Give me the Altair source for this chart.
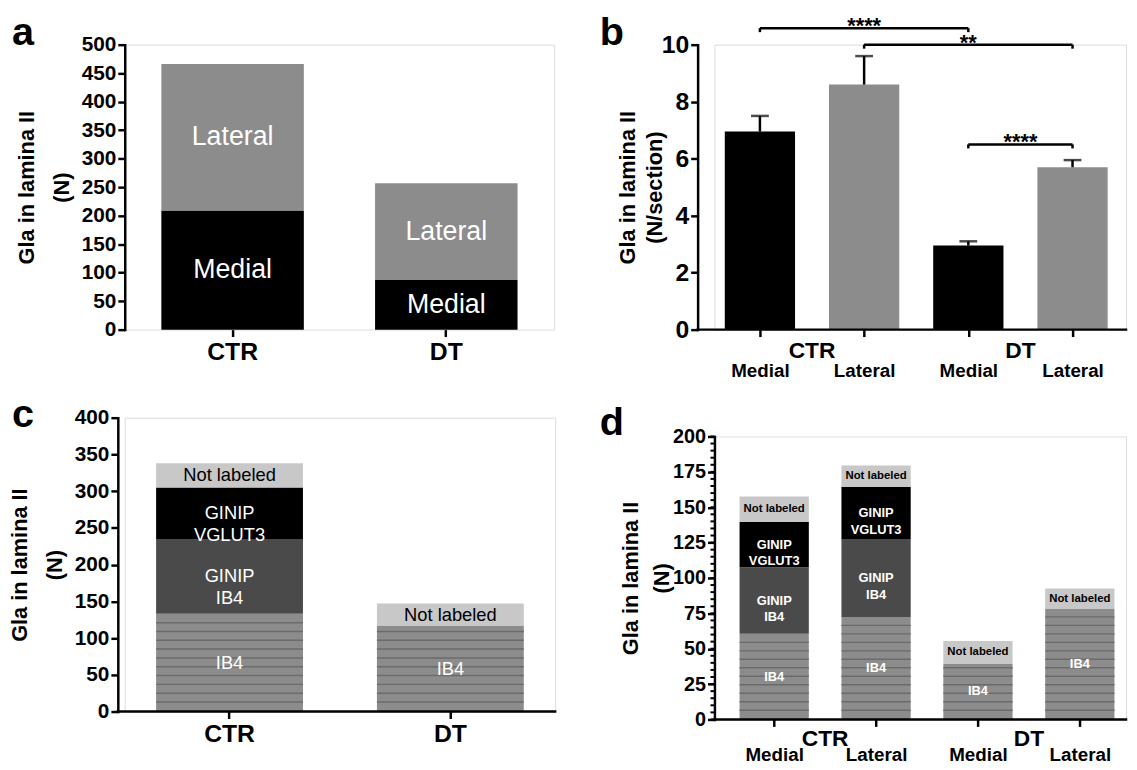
import json
import altair as alt
import pandas as pd

# ---------------- data ----------------
a_groups = ["CTR", "DT"]
a_parts = ["Medial", "Lateral"]
a_medial = [209, 87]
a_lateral = [257, 170]

b_keys = ["CTR Medial", "CTR Lateral", "DT Medial", "DT Lateral"]
b_groups = ["CTR", "CTR", "DT", "DT"]
b_sides = ["Medial", "Lateral", "Medial", "Lateral"]
b_mean = [6.95, 8.6, 2.95, 5.7]
b_err_top = [7.5, 9.6, 3.1, 5.95]
b_cmp_from = ["CTR Medial", "CTR Lateral", "DT Medial"]
b_cmp_to = ["DT Medial", "DT Lateral", "DT Lateral"]
b_cmp_y = [10.58, 10.0, 6.5]
b_cmp_sig = ["****", "**", "****"]

segments = ["IB4", "GINIP IB4", "GINIP VGLUT3", "Not labeled"]
seg_text = ["IB4", "GINIP\nIB4", "GINIP\nVGLUT3", "Not labeled"]

c_groups = ["CTR", "DT"]
c_ib4 = [133, 117]
c_ginip_ib4 = [102, 0]
c_ginip_vglut3 = [70, 0]
c_not_labeled = [33, 30]

d_keys = ["CTR Medial", "CTR Lateral", "DT Medial", "DT Lateral"]
d_groups = ["CTR", "CTR", "DT", "DT"]
d_sides = ["Medial", "Lateral", "Medial", "Lateral"]
d_ib4 = [60.5, 72.5, 39.5, 78]
d_ginip_ib4 = [47, 55, 0, 0]
d_ginip_vglut3 = [32, 37, 0, 0]
d_not_labeled = [18, 15, 16, 14.5]

# ---------------- style / layout ----------------
FONT = "Liberation Sans"
BLACK = "#000000"
GRAY = "#8c8c8c"
SEG_FILL = ["#8c8c8c", "#4a4a4a", "#000000", "#c8c8c8"]
STRIPE = "#6b6b6b"

A_W, A_H = 434, 288
C_W, C_H = 435, 297
C_YOFF = 7
B_W, B_H = 416, 288
B_YOFF = 17
D_W, D_H = 416, 286
B_XDOM = [-0.389, 3.466]
D_XDOM = [-0.538, 3.405]
B_BAR, D_BAR = 71, 70


def y_axis(values, title, label_size, offset=0, line_h=35, tpad=8):
    return alt.Axis(values=values, title=title, format="d", grid=False, offset=offset,
                    domainColor=BLACK, domainWidth=2.5, domainCap="square",
                    tickColor=BLACK, tickWidth=2.5, tickSize=7,
                    labelFont=FONT, labelFontSize=label_size, labelFontWeight="bold",
                    labelColor=BLACK, labelPadding=2,
                    titleFont=FONT, titleFontSize=22, titleFontWeight="bold",
                    titleColor=BLACK, titleLineHeight=line_h, titlePadding=tpad)


def x_axis_band(size):
    return alt.Axis(title=None, labelAngle=0, domain=False, grid=False,
                    tickColor=BLACK, tickWidth=2.5, tickSize=7,
                    labelFont=FONT, labelFontSize=size, labelFontWeight="bold",
                    labelColor=BLACK, labelPadding=3)


def x_axis_idx(sides, size, pad):
    return alt.Axis(values=list(range(len(sides))),
                    labelExpr=json.dumps(sides) + "[datum.value]",
                    title=None, labelAngle=0, domain=False, grid=False,
                    tickColor=BLACK, tickWidth=2.5, tickSize=7,
                    labelFont=FONT, labelFontSize=size, labelFontWeight="bold",
                    labelColor=BLACK, labelPadding=pad, labelFlush=False, labelOverlap=False)


def baseline(off, w, h):
    return alt.Chart(pd.DataFrame({"z": [0]})).mark_rule(
        color=BLACK, strokeWidth=2.5, strokeCap="square"
    ).encode(x=alt.value(-off), x2=alt.value(w), y=alt.value(h))


def letter(t, dx, offset):
    return alt.TitleParams(text=t, anchor="start", frame="group", font=FONT, fontSize=40,
                           fontWeight="bold", color=BLACK, dx=dx, offset=offset)


def stacked_df(cats, cols, groups=None):
    rows = []
    for i, cat in enumerate(cats):
        for j, (seg, lab) in enumerate(zip(segments, seg_text)):
            rows.append({"cat": cat, "idx": i, "grp": (groups[i] if groups else cat),
                         "seg": seg, "lab": lab, "order": j, "value": cols[j][i]})
    return pd.DataFrame(rows)


def stack(df):
    return alt.Chart(df).transform_stack(
        stack="value", groupby=["cat"], as_=["y0", "y1"],
        sort=[alt.SortField("order", order="ascending")]
    ).transform_calculate(mid="(datum.y0 + datum.y1) / 2")


# ---------------- panel a ----------------
a_rows = []
for g, m, l in zip(a_groups, a_medial, a_lateral):
    a_rows.append({"cat": g, "part": a_parts[0], "order": 0, "value": m})
    a_rows.append({"cat": g, "part": a_parts[1], "order": 1, "value": l})
a_df = pd.DataFrame(a_rows)
a_xe = alt.X("cat:N", sort=a_groups, scale=alt.Scale(paddingInner=0.3333, paddingOuter=0.1713),
             axis=x_axis_band(25))
a_ys = alt.Scale(domain=[0, 500], nice=False)
a_ya = y_axis(list(range(0, 501, 50)), ["Gla in lamina II", "(N)"], 21)
a_base = alt.Chart(a_df).transform_stack(
    stack="value", groupby=["cat"], as_=["y0", "y1"],
    sort=[alt.SortField("order", order="ascending")]
).transform_calculate(mid="(datum.y0 + datum.y1) / 2")
a_bars = a_base.mark_bar().encode(
    x=a_xe, y=alt.Y("y0:Q", scale=a_ys, axis=a_ya), y2="y1:Q",
    color=alt.Color("part:N", scale=alt.Scale(domain=a_parts, range=[BLACK, GRAY]), legend=None))
a_text = a_base.mark_text(font=FONT, fontSize=27, color="white").encode(
    x=a_xe, y=alt.Y("mid:Q", scale=a_ys, axis=a_ya), text="part:N")
a_chart = alt.layer(a_bars, a_text).properties(width=A_W, height=A_H, title=letter("a", -114, -19))

# ---------------- panel b ----------------
idx_of = {k: i for i, k in enumerate(b_keys)}
b_df = pd.DataFrame({"key": b_keys, "grp": b_groups, "side": b_sides,
                     "idx": list(range(len(b_keys))), "mean": b_mean, "top": b_err_top,
                     "z": [0] * len(b_keys)})
cmp_df = pd.DataFrame({"x1": [idx_of[k] for k in b_cmp_from], "x2": [idx_of[k] for k in b_cmp_to],
                       "y": b_cmp_y, "sig": b_cmp_sig})
b_xs = alt.Scale(domain=B_XDOM, nice=False, zero=False)
b_ys = alt.Scale(domain=[0, 10], nice=False)
b_xa = x_axis_idx(b_sides, 19, 25)
b_ya = y_axis([0, 2, 4, 6, 8, 10], ["Gla in lamina II", "(N/section)"], 25, offset=B_YOFF,
              line_h=27, tpad=-5)


def bx(f):
    return alt.X(f, scale=b_xs, axis=b_xa)


def by(f):
    return alt.Y(f, scale=b_ys, axis=b_ya)


b_bars = alt.Chart(b_df).mark_bar(width=B_BAR).encode(
    x=bx("idx:Q"), y=by("mean:Q"),
    color=alt.Color("side:N", scale=alt.Scale(domain=["Medial", "Lateral"], range=[BLACK, GRAY]),
                    legend=None))
b_err = alt.Chart(b_df).mark_rule(color=BLACK, strokeWidth=2.5).encode(
    x=bx("idx:Q"), y=by("mean:Q"), y2="top:Q")
b_cap = alt.Chart(b_df).mark_tick(orient="horizontal", size=18, thickness=2.5, color=BLACK).encode(
    x=bx("idx:Q"), y=by("top:Q"))
b_br = alt.Chart(cmp_df).mark_rule(color=BLACK, strokeWidth=2.5).encode(
    x=bx("x1:Q"), x2="x2:Q", y=by("y:Q"))
b_brl = alt.Chart(cmp_df).transform_calculate(yl="datum.y - 0.14").mark_rule(
    color=BLACK, strokeWidth=2.5).encode(x=bx("x1:Q"), y=by("y:Q"), y2="yl:Q")
b_brr = alt.Chart(cmp_df).transform_calculate(yl="datum.y - 0.14").mark_rule(
    color=BLACK, strokeWidth=2.5).encode(x=bx("x2:Q"), y=by("y:Q"), y2="yl:Q")
b_sig = alt.Chart(cmp_df).transform_calculate(xm="(datum.x1 + datum.x2) / 2").mark_text(
    font=FONT, fontSize=22, fontWeight="bold", baseline="alphabetic", dy=5, color=BLACK
).encode(x=bx("xm:Q"), y=by("y:Q"), text="sig:N")
b_grp = alt.Chart(b_df).transform_aggregate(gx="mean(idx)", z="min(z)", groupby=["grp"]).mark_text(
    font=FONT, fontSize=23, fontWeight="bold", baseline="middle", dy=22, color=BLACK
).encode(x=bx("gx:Q"), y=by("z:Q"), text="grp:N")
b_chart = alt.layer(b_bars, b_err, b_cap, b_br, b_brl, b_brr, b_sig, b_grp,
                    baseline(B_YOFF, B_W, B_H)).properties(
    width=B_W, height=B_H, title=letter("b", -116, -38))

# ---------------- panel c ----------------
c_df = stacked_df(c_groups, [c_ib4, c_ginip_ib4, c_ginip_vglut3, c_not_labeled])
c_xe = alt.X("cat:N", sort=c_groups, scale=alt.Scale(paddingInner=0.335, paddingOuter=0.142),
             axis=x_axis_band(25))
c_ys = alt.Scale(domain=[0, 400], nice=False)
c_ya = y_axis(list(range(0, 401, 50)), ["Gla in lamina II", "(N)"], 21, offset=C_YOFF)
C_STEP, C_THICK = 12, 2
c_bars = stack(c_df).mark_bar().encode(
    x=c_xe, y=alt.Y("y0:Q", scale=c_ys, axis=c_ya), y2="y1:Q",
    color=alt.Color("seg:N", scale=alt.Scale(domain=segments, range=SEG_FILL), legend=None))
c_stripes = alt.Chart(c_df).transform_filter(alt.datum.seg == segments[0]).transform_calculate(
    s=f"sequence({C_STEP}, datum.value - {C_STEP / 2}, {C_STEP})"
).transform_flatten(["s"]).transform_calculate(s2=f"datum.s + {C_THICK}").mark_bar(
    color=STRIPE).encode(x=c_xe, y=alt.Y("s:Q", scale=c_ys, axis=c_ya), y2="s2:Q")
c_text_w = stack(c_df).transform_filter(
    (alt.datum.value > 0) & (alt.datum.seg != segments[3])).mark_text(
    font=FONT, fontSize=18.5, lineBreak="\n", lineHeight=22, color="white").encode(
    x=c_xe, y=alt.Y("mid:Q", scale=c_ys, axis=c_ya), text="lab:N")
c_text_b = stack(c_df).transform_filter(
    (alt.datum.value > 0) & (alt.datum.seg == segments[3])).mark_text(
    font=FONT, fontSize=18.5, color=BLACK).encode(
    x=c_xe, y=alt.Y("mid:Q", scale=c_ys, axis=c_ya), text="lab:N")
c_chart = alt.layer(c_bars, c_stripes, c_text_w, c_text_b, baseline(C_YOFF, C_W, C_H)).properties(
    width=C_W, height=C_H, title=letter("c", -114, -28))

# ---------------- panel d ----------------
d_df = stacked_df(d_keys, [d_ib4, d_ginip_ib4, d_ginip_vglut3, d_not_labeled], d_groups)
d_df["z"] = 0
d_xs = alt.Scale(domain=D_XDOM, nice=False, zero=False)
d_xa = x_axis_idx(d_sides, 19, 19)
d_xe = alt.X("idx:Q", scale=d_xs, axis=d_xa)
d_ys = alt.Scale(domain=[0, 200], nice=False)
d_ya = y_axis(list(range(0, 201, 25)), ["Gla in lamina II", "(N)"], 20, line_h=31, tpad=-1)
D_STEP, D_THICK = 6, 1
d_bars = stack(d_df).mark_bar(width=D_BAR).encode(
    x=d_xe, y=alt.Y("y0:Q", scale=d_ys, axis=d_ya), y2="y1:Q",
    color=alt.Color("seg:N", scale=alt.Scale(domain=segments, range=SEG_FILL), legend=None))
d_stripes = alt.Chart(d_df).transform_filter(alt.datum.seg == segments[0]).transform_calculate(
    s=f"sequence({D_STEP}, datum.value - {D_STEP / 2}, {D_STEP})"
).transform_flatten(["s"]).transform_calculate(s2=f"datum.s + {D_THICK}").mark_bar(
    width=D_BAR, color=STRIPE).encode(x=d_xe, y=alt.Y("s:Q", scale=d_ys, axis=d_ya), y2="s2:Q")
d_text_w = stack(d_df).transform_filter(
    (alt.datum.value > 0) & (alt.datum.seg != segments[3])).mark_text(
    font=FONT, fontSize=13, fontWeight="bold", lineBreak="\n", lineHeight=17, color="white").encode(
    x=d_xe, y=alt.Y("mid:Q", scale=d_ys, axis=d_ya), text="lab:N")
d_text_b = stack(d_df).transform_filter(
    (alt.datum.value > 0) & (alt.datum.seg == segments[3])).mark_text(
    font=FONT, fontSize=11.5, fontWeight="bold", color=BLACK).encode(
    x=d_xe, y=alt.Y("mid:Q", scale=d_ys, axis=d_ya), text="lab:N")
d_minor = alt.Chart(alt.sequence(0, 201, 5, as_="t")).mark_rule(color=BLACK, strokeWidth=2).encode(
    y=alt.Y("t:Q", scale=d_ys, axis=d_ya), x=alt.value(-4), x2=alt.value(0))
d_grp = alt.Chart(d_df).transform_aggregate(gx="mean(idx)", z="min(z)", groupby=["grp"]).mark_text(
    font=FONT, fontSize=23, fontWeight="bold", baseline="middle", dy=20, color=BLACK
).encode(x=alt.X("gx:Q", scale=d_xs, axis=d_xa),
         y=alt.Y("z:Q", scale=d_ys, axis=d_ya), text="grp:N")
d_chart = alt.layer(d_bars, d_stripes, d_text_w, d_text_b, d_minor, d_grp,
                    baseline(0, D_W, D_H)).properties(
    width=D_W, height=D_H, title=letter("d", -116, -16))

# ---------------- assemble ----------------
col1 = alt.vconcat(a_chart, c_chart, spacing=29).resolve_scale(color="independent")
col2 = alt.vconcat(b_chart, d_chart, spacing=21).resolve_scale(color="independent")
chart = alt.hconcat(col1, col2, spacing=41).resolve_scale(color="independent").properties(
    padding={"left": 0, "top": 0, "right": 0, "bottom": 0}
).configure_view(strokeWidth=0).configure(font=FONT)

chart.save("out.html", embed_options={"renderer": "svg", "actions": False})
